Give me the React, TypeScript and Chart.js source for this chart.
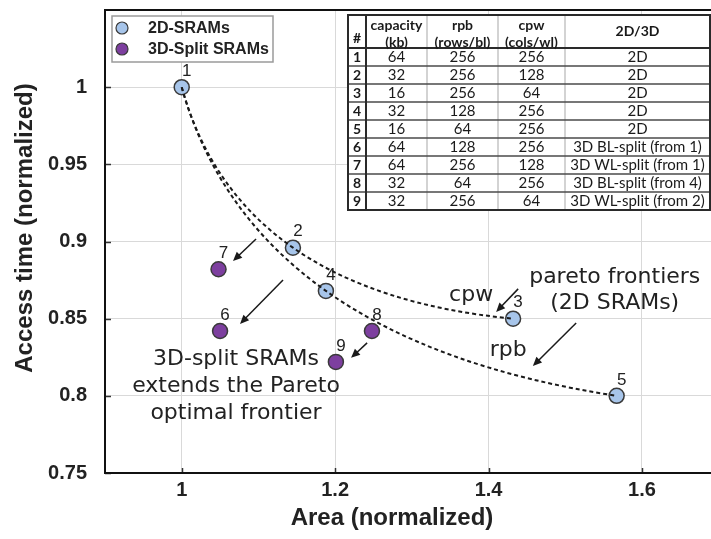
import React, { useEffect, useRef } from 'react';
import { Chart, registerables } from 'chart.js';

Chart.register(...registerables);

// ---- data ----
const ids2D = ['1', '2', '3', '4', '5'];
const area2D = [1.0, 1.145, 1.432, 1.188, 1.567];
const time2D = [1.0, 0.896, 0.85, 0.868, 0.8];

const ids3D = ['6', '7', '8', '9'];
const area3D = [1.05, 1.048, 1.248, 1.201];
const time3D = [0.842, 0.882, 0.842, 0.822];

const cpwFrontier = ['1', '2', '3'];
const rpbFrontier = ['1', '4', '5'];

const xTicks = [1, 1.2, 1.4, 1.6];
const xTickLabels = ['1', '1.2', '1.4', '1.6'];
const yTicks = [0.75, 0.8, 0.85, 0.9, 0.95, 1];
const yTickLabels = ['0.75', '0.8', '0.85', '0.9', '0.95', '1'];

const seriesNames = ['2D-SRAMs', '3D-Split SRAMs'];
const xTitle = 'Area (normalized)';
const yTitle = 'Access time (normalized)';

const tableHead1 = ['#', 'capacity', 'rpb', 'cpw', '2D/3D'];
const tableHead2 = ['', '(kb)', '(rows/bl)', '(cols/wl)', ''];
const tableNum = ['1', '2', '3', '4', '5', '6', '7', '8', '9'];
const tableCapacity = ['64', '32', '16', '32', '16', '64', '64', '32', '32'];
const tableRpb = ['256', '256', '256', '128', '64', '128', '256', '64', '256'];
const tableCpw = ['256', '128', '64', '256', '256', '256', '128', '256', '64'];
const tableType = ['2D', '2D', '2D', '2D', '2D', '3D BL-split (from 1)', '3D WL-split (from 1)', '3D BL-split (from 4)', '3D WL-split (from 2)'];

const note3D = ['3D-split SRAMs', 'extends the Pareto', 'optimal frontier'];
const notePareto = ['pareto frontiers', '(2D SRAMs)'];
const noteCpw = 'cpw';
const noteRpb = 'rpb';

// ---- layout / style (not data) ----
const BLUE = '#a7c5ea';
const PURPLE = '#7d3f9f';
const EDGE = '#3a3a3a';
const TEXT = '#222222';
const NOTE_FONT = '22px "DejaVu Sans", Verdana, sans-serif';
const LABEL_FONT = '17px "Liberation Sans", Arial, sans-serif';
const TICK_FONT = { family: '"Liberation Sans", Arial, sans-serif', size: 20, weight: 'bold' as const };

const annotations = {
  note3D: { x: 1.0708, y: 0.8239, lineGap: 27 },
  notePareto: { x: 1.5645, y: 0.877, lineGap: 26 },
  cpw: { x: 1.3773, y: 0.8654 },
  rpb: { x: 1.4256, y: 0.8298 },
  arrows: [
    [1.0969, 0.9016, 1.0669, 0.8874],
    [1.1321, 0.8751, 1.076, 0.8466],
    [1.2417, 0.8343, 1.2208, 0.8246],
    [1.4386, 0.8693, 1.4099, 0.8544],
    [1.5142, 0.8472, 1.4578, 0.8193],
  ],
};

function drawArrow(ctx: CanvasRenderingContext2D, x1: number, y1: number, x2: number, y2: number) {
  const ang = Math.atan2(y2 - y1, x2 - x1);
  const L = 9, W = 4;
  ctx.beginPath();
  ctx.moveTo(x1, y1);
  ctx.lineTo(x2 - 5 * Math.cos(ang), y2 - 5 * Math.sin(ang));
  ctx.stroke();
  ctx.beginPath();
  ctx.moveTo(x2, y2);
  ctx.lineTo(x2 - L * Math.cos(ang) + W * Math.sin(ang), y2 - L * Math.sin(ang) - W * Math.cos(ang));
  ctx.lineTo(x2 - L * Math.cos(ang) - W * Math.sin(ang), y2 - L * Math.sin(ang) + W * Math.cos(ang));
  ctx.closePath();
  ctx.fill();
}

function drawCurve(ctx: CanvasRenderingContext2D, pts: { x: number; y: number }[]) {
  const n = pts.length;
  const T: { x: number; y: number }[] = [];
  for (let i = 0; i < n; i++) {
    if (i > 0 && i < n - 1) T[i] = { x: (pts[i + 1].x - pts[i - 1].x) / 2, y: (pts[i + 1].y - pts[i - 1].y) / 2 };
  }
  if (n >= 3) {
    T[0] = { x: 2 * (pts[1].x - pts[0].x) - T[1].x, y: 2 * (pts[1].y - pts[0].y) - T[1].y };
    T[n - 1] = { x: 2 * (pts[n - 1].x - pts[n - 2].x) - T[n - 2].x, y: 2 * (pts[n - 1].y - pts[n - 2].y) - T[n - 2].y };
  } else {
    T[0] = { x: pts[1].x - pts[0].x, y: pts[1].y - pts[0].y };
    T[1] = T[0];
  }
  ctx.beginPath();
  ctx.moveTo(pts[0].x, pts[0].y);
  for (let i = 0; i < n - 1; i++) {
    ctx.bezierCurveTo(
      pts[i].x + T[i].x / 3, pts[i].y + T[i].y / 3,
      pts[i + 1].x - T[i + 1].x / 3, pts[i + 1].y - T[i + 1].y / 3,
      pts[i + 1].x, pts[i + 1].y,
    );
  }
  ctx.stroke();
}

const overlayPlugin = {
  id: 'overlay',
  beforeDatasetsDraw(chart: any) {
    const { ctx, chartArea: a } = chart;
    ctx.save();
    // inner tick marks
    ctx.strokeStyle = '#333';
    ctx.lineWidth = 1.5;
    const xs = chart.scales.x, ys = chart.scales.y;
    xTicks.forEach((v) => {
      const px = Math.round(xs.getPixelForValue(v)) + 0.5;
      ctx.beginPath(); ctx.moveTo(px, a.bottom); ctx.lineTo(px, a.bottom - 5); ctx.stroke();
    });
    yTicks.forEach((v) => {
      const py = Math.round(ys.getPixelForValue(v)) + 0.5;
      ctx.beginPath(); ctx.moveTo(a.left, py); ctx.lineTo(a.left + 6, py); ctx.stroke();
    });
    // borders
    ctx.strokeStyle = '#111';
    ctx.lineWidth = 2;
    ctx.beginPath();
    ctx.moveTo(a.right, a.top);
    ctx.lineTo(a.left, a.top);
    ctx.lineTo(a.left, a.bottom);
    ctx.lineTo(a.right, a.bottom);
    ctx.stroke();
    ctx.restore();
  },
  afterDatasetsDraw(chart: any) {
    const { ctx } = chart;
    const xs = chart.scales.x, ys = chart.scales.y;
    const P = (x: number, y: number) => ({ x: xs.getPixelForValue(x), y: ys.getPixelForValue(y) });
    const allIds = [...ids2D, ...ids3D];
    const allX = [...area2D, ...area3D];
    const allY = [...time2D, ...time3D];
    const find = (id: string) => { const i = allIds.indexOf(id); return P(allX[i], allY[i]); };

    ctx.save();
    // frontier curves
    ctx.strokeStyle = '#1a1a1a';
    ctx.lineWidth = 2;
    ctx.setLineDash([4, 3]);
    drawCurve(ctx, cpwFrontier.map(find));
    drawCurve(ctx, rpbFrontier.map(find));
    ctx.setLineDash([]);

    // point labels
    ctx.fillStyle = TEXT;
    ctx.font = LABEL_FONT;
    ctx.textAlign = 'center';
    ctx.textBaseline = 'middle';
    allIds.forEach((id) => {
      const p = find(id);
      ctx.fillText(id, p.x + 5, p.y - 16);
    });

    // arrows
    ctx.strokeStyle = '#1a1a1a';
    ctx.fillStyle = '#1a1a1a';
    ctx.lineWidth = 1.5;
    annotations.arrows.forEach(([x1, y1, x2, y2]) => {
      const a = P(x1, y1), b = P(x2, y2);
      drawArrow(ctx, a.x, a.y, b.x, b.y);
    });

    // notes
    ctx.fillStyle = TEXT;
    ctx.font = NOTE_FONT;
    ctx.textAlign = 'center';
    ctx.textBaseline = 'middle';
    const n3 = P(annotations.note3D.x, annotations.note3D.y);
    note3D.forEach((t, i) => ctx.fillText(t, n3.x, n3.y + i * annotations.note3D.lineGap));
    const np = P(annotations.notePareto.x, annotations.notePareto.y);
    notePareto.forEach((t, i) => ctx.fillText(t, np.x, np.y + i * annotations.notePareto.lineGap));
    const nc = P(annotations.cpw.x, annotations.cpw.y);
    ctx.fillText(noteCpw, nc.x, nc.y);
    const nr = P(annotations.rpb.x, annotations.rpb.y);
    ctx.fillText(noteRpb, nr.x, nr.y);

    // legend
    const a = chart.chartArea;
    const lx = a.left + 7, ly = a.top + 6, lw = 161, lh = 46;
    ctx.fillStyle = '#fff';
    ctx.fillRect(lx, ly, lw, lh);
    ctx.strokeStyle = '#9a9a9a';
    ctx.lineWidth = 1.5;
    ctx.strokeRect(lx, ly, lw, lh);
    const legendColors = [BLUE, PURPLE];
    seriesNames.forEach((name, i) => {
      const cy = ly + 12 + i * 21;
      ctx.beginPath();
      ctx.arc(lx + 10, cy, 6, 0, Math.PI * 2);
      ctx.fillStyle = legendColors[i];
      ctx.fill();
      ctx.strokeStyle = EDGE;
      ctx.lineWidth = 1.2;
      ctx.stroke();
      ctx.fillStyle = TEXT;
      ctx.font = 'bold 16px "Liberation Sans", Arial, sans-serif';
      ctx.textAlign = 'left';
      ctx.textBaseline = 'middle';
      ctx.fillText(name, lx + 36, cy + 1);
    });

    // table
    const tx = 348, ty = 15;
    const colW = [18, 61, 71, 67, 145];
    const headH = 33, rowH = 18;
    const tw = colW.reduce((s, w) => s + w, 0);
    const th = headH + rowH * tableNum.length;
    const edges = [tx];
    colW.forEach((w) => edges.push(edges[edges.length - 1] + w));
    ctx.fillStyle = '#fff';
    ctx.fillRect(tx, ty, tw, th);
    // light column separators
    ctx.strokeStyle = '#c4c4c4';
    ctx.lineWidth = 1.5;
    for (let c = 2; c < colW.length; c++) {
      ctx.beginPath(); ctx.moveTo(edges[c], ty); ctx.lineTo(edges[c], ty + th); ctx.stroke();
    }
    // row separators
    ctx.strokeStyle = '#4a4a4a';
    ctx.lineWidth = 1.5;
    for (let r = 1; r < tableNum.length; r++) {
      const yy = ty + headH + r * rowH;
      ctx.beginPath(); ctx.moveTo(tx, yy); ctx.lineTo(tx + tw, yy); ctx.stroke();
    }
    ctx.strokeStyle = '#2a2a2a';
    ctx.lineWidth = 2;
    ctx.beginPath(); ctx.moveTo(tx, ty + headH); ctx.lineTo(tx + tw, ty + headH); ctx.stroke();
    ctx.beginPath(); ctx.moveTo(edges[1], ty); ctx.lineTo(edges[1], ty + th); ctx.stroke();
    ctx.strokeRect(tx, ty, tw, th);

    const cx = (c: number) => (edges[c] + edges[c + 1]) / 2;
    ctx.fillStyle = '#1a1a1a';
    ctx.textAlign = 'center';
    ctx.textBaseline = 'middle';
    ctx.font = 'bold 14px Lato, "Open Sans", sans-serif';
    tableHead1.forEach((t, c) => {
      const two = tableHead2[c] !== '';
      if (c === 0) ctx.fillText(t, cx(c), ty + 23);
      else if (two) ctx.fillText(t, cx(c), ty + 10);
      else ctx.fillText(t, cx(c), ty + 16);
      if (two) ctx.fillText(tableHead2[c], cx(c), ty + 27);
    });
    tableNum.forEach((num, r) => {
      const yy = ty + headH + r * rowH + rowH / 2 + 0.5;
      ctx.font = 'bold 14px Lato, "Open Sans", sans-serif';
      ctx.fillText(num, cx(0), yy);
      ctx.font = '15px Lato, "Open Sans", sans-serif';
      ctx.fillText(tableCapacity[r], cx(1), yy);
      ctx.fillText(tableRpb[r], cx(2), yy);
      ctx.fillText(tableCpw[r], cx(3), yy);
      ctx.fillText(tableType[r], cx(4), yy);
    });

    // axis titles
    ctx.fillStyle = TEXT;
    ctx.font = 'bold 24px "Liberation Sans", Arial, sans-serif';
    ctx.textAlign = 'center';
    ctx.textBaseline = 'middle';
    ctx.fillText(xTitle, 392, 518);
    ctx.save();
    ctx.translate(25, 228);
    ctx.rotate(-Math.PI / 2);
    ctx.fillText(yTitle, 0, 0);
    ctx.restore();

    ctx.restore();
  },
};

export default function App() {
  const ref = useRef<HTMLCanvasElement | null>(null);
  useEffect(() => {
    if (!ref.current) return;
    const chart = new Chart(ref.current, {
      type: 'scatter',
      data: {
        datasets: [
          {
            label: seriesNames[0],
            data: area2D.map((x, i) => ({ x, y: time2D[i] })),
            backgroundColor: BLUE,
            borderColor: EDGE,
            borderWidth: 1.5,
            pointRadius: 7.5,
          },
          {
            label: seriesNames[1],
            data: area3D.map((x, i) => ({ x, y: time3D[i] })),
            backgroundColor: PURPLE,
            borderColor: EDGE,
            borderWidth: 1.5,
            pointRadius: 7.5,
          },
        ],
      },
      options: {
        responsive: false,
        animation: false,
        devicePixelRatio: 1,
        layout: { autoPadding: false, padding: { top: 10, right: 0, bottom: 0, left: 0 } },
        plugins: { legend: { display: false }, tooltip: { enabled: false } },
        scales: {
          x: {
            type: 'linear',
            min: 0.9,
            max: 1.69,
            afterBuildTicks: (s: any) => { s.ticks = xTicks.map((v) => ({ value: v })); },
            afterFit: (s: any) => { s.height = 66; s.paddingLeft = 0; s.paddingRight = 0; },
            ticks: {
              font: TICK_FONT,
              color: TEXT,
              padding: 5,
              maxRotation: 0,
              autoSkip: false,
              callback: (v: any) => { const i = xTicks.indexOf(Number(v)); return i >= 0 ? xTickLabels[i] : ''; },
            },
            grid: { color: '#d9d9d9', lineWidth: 1, drawTicks: false },
            border: { display: false },
          },
          y: {
            type: 'linear',
            min: 0.75,
            max: 1.05,
            afterBuildTicks: (s: any) => { s.ticks = yTicks.map((v) => ({ value: v })); },
            afterFit: (s: any) => { s.width = 105; s.paddingTop = 0; s.paddingBottom = 0; },
            ticks: {
              font: TICK_FONT,
              color: TEXT,
              padding: 18,
              autoSkip: false,
              callback: (v: any) => { const i = yTicks.indexOf(Number(v)); return i >= 0 ? yTickLabels[i] : ''; },
            },
            grid: { color: '#d9d9d9', lineWidth: 1, drawTicks: false },
            border: { display: false },
          },
        },
      },
      plugins: [overlayPlugin],
    });
    return () => chart.destroy();
  }, []);
  return (
    <div style={{ position: 'fixed', left: 0, top: 0, width: 711, height: 539, background: '#fff' }}>
      <canvas ref={ref} width={711} height={539} style={{ display: 'block' }} />
    </div>
  );
}
